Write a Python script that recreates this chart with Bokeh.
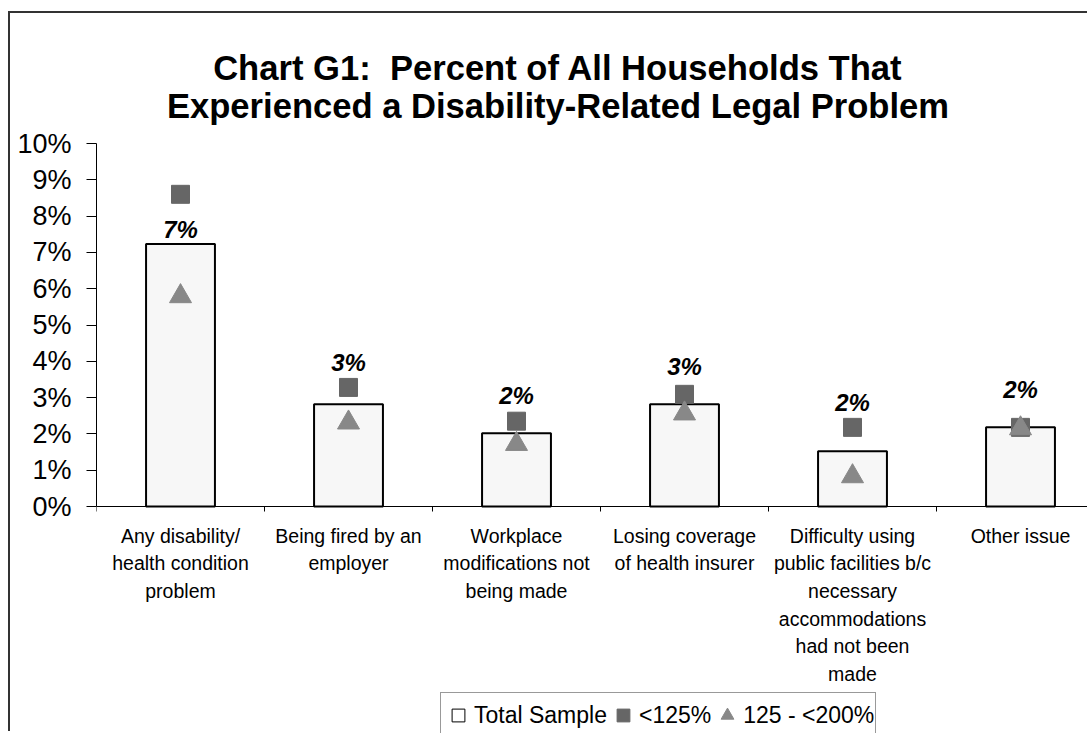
from bokeh.plotting import figure
from bokeh.models import (ColumnDataSource, FixedTicker, PrintfTickFormatter, Range1d,
                          Label, LabelSet, Legend, LegendItem)
from bokeh.embed import file_html
from bokeh.resources import INLINE
from bokeh.core.properties import value

# ---------------- data ----------------
categories = [
    "Any disability/\nhealth condition\nproblem",
    "Being fired by an\nemployer",
    "Workplace\nmodifications not\nbeing made",
    "Losing coverage\nof health insurer",
    "Difficulty using\npublic facilities b/c\nnecessary\naccommodations\nhad not been\nmade",
    "Other issue",
]
total_sample = [7.23, 2.82, 2.02, 2.82, 1.52, 2.18]
below_125 = [8.60, 3.28, 2.35, 3.09, 2.18, 2.18]
from_125_to_200 = [5.79, 2.31, 1.72, 2.56, 0.83, 2.15]
value_labels = ["7%", "3%", "2%", "3%", "2%", "2%"]
y_ticks = [0, 1, 2, 3, 4, 5, 6, 7, 8, 9, 10]
series_names = ["Total Sample", "<125%", "125 - <200%"]
title_lines = ["Chart G1:\u00a0 Percent of All Households That",
               "Experienced a Disability-Related Legal Problem"]

FONT = "Liberation Sans"
n = len(categories)
xs = list(range(1, n + 1))

# geometry (pixels)
canvas_w, canvas_h = 1079, 720
left_border = 86
axis_top_px = 130     # distance from canvas top down to the 10 % line
frame_w = canvas_w - left_border
frame_h = canvas_h
cat_px = 168          # width of one category
px_per_pct = 36.3     # height of 1 %
y_max = 10
y_top = y_max + axis_top_px / px_per_pct       # room above the axis for the title
y_min = y_top - frame_h / px_per_pct           # room below the axis for labels and legend

# value-label anchors: just above the bar when the <125% mark is far above it,
# otherwise clear of both the bar and the <125% mark
label_y = []
for t, s in zip(total_sample, below_125):
    if s - t > 1.0:
        label_y.append(t + 6 / px_per_pct)
    else:
        label_y.append(max(t + 29 / px_per_pct, s + 16 / px_per_pct))

src = ColumnDataSource(dict(x=xs, total=total_sample, low=below_125, mid=from_125_to_200,
                            lab=value_labels, ly=label_y))

p = figure(width=canvas_w, height=canvas_h, title=None,
           x_range=Range1d(0.5, 0.5 + frame_w / cat_px), y_range=Range1d(y_min, y_top),
           min_border_left=left_border, min_border_right=0, min_border_top=0,
           min_border_bottom=0, output_backend="svg", toolbar_location=None)
p.styles = {"border-left": "2px solid #333333", "border-top": "2px solid #333333"}
p.margin = (11, 0, 0, 8)
p.xgrid.visible = False
p.ygrid.visible = False
p.outline_line_color = None
p.background_fill_color = "white"
p.border_fill_color = "white"

bars = p.vbar(x="x", top="total", width=0.41, bottom=0, source=src,
              fill_color="#f7f7f7", line_color="black", line_width=2)
sq = p.scatter(x="x", y="low", source=src, marker="square", size=18,
               fill_color="#666666", line_color="#666666")
tri = p.scatter(x="x", y="mid", source=src, marker="triangle", size=22,
                fill_color="#888888", line_color="#888888")
# legend symbol for the bars (zero-size marks at the bar tops)
bar_key = p.scatter(x="x", y="total", source=src, marker="square", size=0,
                    fill_color="white", line_color="black", line_width=1)

labels = LabelSet(x="x", y="ly", text="lab", source=src,
                  text_align="center", text_baseline="alphabetic",
                  text_font=value(FONT), text_font_size="24px", text_font_style="bold italic",
                  text_color="black")
p.add_layout(labels)

# y axis
yax = p.yaxis[0]
yax.bounds = (0, y_max)
yax.ticker = FixedTicker(ticks=y_ticks, minor_ticks=[])
yax.formatter = PrintfTickFormatter(format="%d%%")
yax.major_label_text_font = FONT
yax.major_label_text_font_size = "27px"
yax.major_label_text_color = "black"
yax.major_tick_out = 10
yax.major_tick_in = 0
yax.major_label_standoff = 15
yax.axis_line_color = "black"
yax.major_tick_line_color = "black"

# x axis, drawn at 0 %
xax = p.xaxis[0]
xax.fixed_location = 0
xax.ticker = FixedTicker(ticks=xs, minor_ticks=[i + 0.5 for i in range(0, n + 1)])
xax.major_label_overrides = {x: c for x, c in zip(xs, categories)}
xax.major_label_text_font = FONT
xax.major_label_text_font_size = "19.5px"
xax.major_label_text_line_height = 1.26
xax.major_label_text_color = "black"
xax.major_tick_out = 0
xax.major_tick_in = 0
xax.minor_tick_out = 5
xax.minor_tick_in = 0
xax.minor_tick_line_color = "black"
xax.major_label_standoff = 13
xax.axis_line_color = "black"

# title: two centred lines (screen units measured from the frame's bottom-left)
title_cx = 557.5 - 10 - left_border
title_baselines = [canvas_h - (67 - 13), canvas_h - (105 - 13)]
for line, yb in zip(title_lines, title_baselines):
    p.add_layout(Label(x=title_cx, y=yb, x_units="screen", y_units="screen",
                       text=line, text_align="center", text_baseline="alphabetic",
                       text_font=FONT, text_font_size="34.6px", text_font_style="bold",
                       text_color="black"))

# legend
legend = Legend(items=[LegendItem(label=series_names[0], renderers=[bar_key]),
                       LegendItem(label=series_names[1], renderers=[sq]),
                       LegendItem(label=series_names[2], renderers=[tri])],
                orientation="horizontal", location=(344, -5),
                glyph_width=32, glyph_height=42, label_standoff=0, spacing=0, padding=1,
                margin=0, label_text_font=FONT, label_text_font_size="23px",
                label_text_color="black", border_line_color="#333333", border_line_width=1,
                background_fill_color="white", background_fill_alpha=1.0)
p.add_layout(legend, "center")

open("out.html", "w").write(file_html(p, INLINE))
